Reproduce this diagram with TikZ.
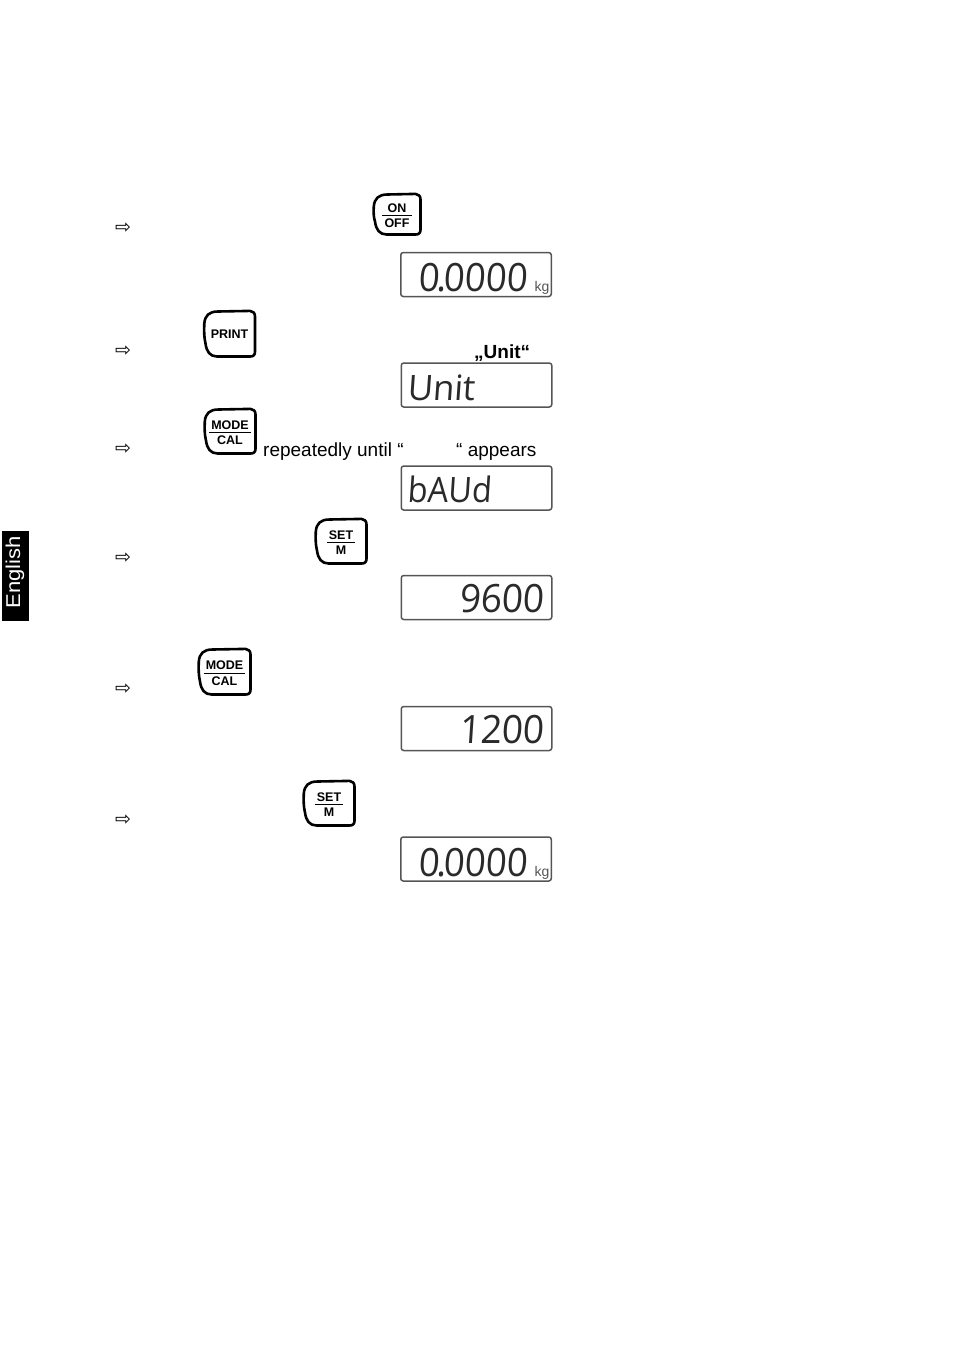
\documentclass[tikz,border=0pt]{standalone}
\usepackage{fontspec}
\setmainfont{Liberation Sans}
\newfontfamily\ArrowFont{DejaVu Sans}
\newfontfamily\LcdFont[FakeSlant=0.07]{Open Sans}
\usetikzlibrary{positioning}
\definecolor{LcdFrame}{HTML}{555555}
\definecolor{LcdInk}{HTML}{2A2A2A}
\newcommand{\KeyLabel}[2]{\begin{tabular}{@{\,}c@{\,}}\rule{0pt}{15pt}#1\\[-1pt]\hline\rule{0pt}{12.5pt}#2\end{tabular}}
\newcommand{\DrawKey}[1]{\draw[KeyEdge] ([xshift=14pt]#1.north west) -- ([xshift=-5pt,yshift=0.6pt]#1.north east)
  .. controls ([xshift=-2pt,yshift=0.4pt]#1.north east) and ([yshift=-1.5pt]#1.north east) .. ([yshift=-5pt]#1.north east) -- ([yshift=5pt]#1.south east)
  .. controls ([yshift=1.5pt]#1.south east) and ([xshift=-1.5pt]#1.south east) .. ([xshift=-5pt]#1.south east) -- ([xshift=13pt]#1.south west)
  .. controls ([xshift=6pt]#1.south west) and ([xshift=2.5pt,yshift=5pt]#1.south west) .. ([xshift=1.5pt,yshift=13pt]#1.south west)
  .. controls ([xshift=0pt,yshift=-3pt]#1.west) and ([xshift=0pt,yshift=3pt]#1.west) .. ([xshift=0.3pt,yshift=-12pt]#1.north west)
  .. controls ([xshift=1pt,yshift=-4pt]#1.north west) and ([xshift=5pt]#1.north west) .. cycle;}

\begin{document}
\begin{tikzpicture}[x=1pt,y=-1pt]
  \tikzset{KeyStyle/.style = {
    shape          = rectangle,
    inner sep      = 0pt,
    outer sep      = 0pt,
    text           = black,
    font           = \fontsize{12.5}{12.5}\selectfont\bfseries
    }
  }
  \tikzset{KeyEdge/.style = {
    draw           = black,
    line width     = 2.6pt,
    line join      = round
    }
  }
  \tikzset{DisplayStyle/.style = {
    shape          = rectangle,
    draw           = LcdFrame,
    fill           = white,
    line width     = 1.5pt,
    rounded corners = 2.5pt,
    minimum width  = 150.5pt,
    minimum height = 44pt,
    inner sep      = 0pt,
    outer sep      = 0pt
    }
  }
  \tikzset{LcdStyle/.style = {
    text           = LcdInk,
    inner sep      = 0pt,
    font           = \fontsize{39}{39}\selectfont\LcdFont
    }
  }
  \tikzset{KgStyle/.style = {
    text           = LcdFrame,
    inner sep      = 0pt,
    anchor         = base west,
    font           = \fontsize{14}{14}\selectfont
    }
  }
  \tikzset{BulletStyle/.style = {
    inner sep      = 0pt,
    font           = \fontsize{19}{19}\selectfont\ArrowFont
    }
  }
  \tikzset{BodyStyle/.style = {
    inner sep      = 0pt,
    anchor         = base west,
    font           = \fontsize{19}{20}\selectfont
    }
  }
  \useasboundingbox (0,0) rectangle (954,1350);

  \node[BulletStyle](ArrowA) at (123, 228) {⇨};
  \node[BulletStyle](ArrowB) at (123, 351) {⇨};
  \node[BulletStyle](ArrowC) at (123, 449) {⇨};
  \node[BulletStyle](ArrowD) at (123, 558) {⇨};
  \node[BulletStyle](ArrowE) at (123, 689) {⇨};
  \node[BulletStyle](ArrowF) at (123, 820) {⇨};

  \node[KeyStyle, minimum width=47pt, minimum height=40pt](KeyOnOff) at (397, 214.5) {\KeyLabel{ON}{OFF}};
  \node[KeyStyle, minimum width=51pt, minimum height=45pt](KeyPrint) at (229.5, 334) {PRINT};
  \node[KeyStyle, minimum width=51pt, minimum height=44pt](KeyModeA) at (230, 431.5) {\KeyLabel{MODE}{CAL}};
  \node[KeyStyle, minimum width=51pt, minimum height=44pt](KeySetA) at (341, 541.5) {\KeyLabel{SET}{M}};
  \node[KeyStyle, minimum width=52pt, minimum height=45pt](KeyModeB) at (224.5, 672) {\KeyLabel{MODE}{CAL}};
  \node[KeyStyle, minimum width=51pt, minimum height=44pt](KeySetB) at (329, 803.5) {\KeyLabel{SET}{M}};
  \DrawKey{KeyOnOff}
  \DrawKey{KeyPrint}
  \DrawKey{KeyModeA}
  \DrawKey{KeySetA}
  \DrawKey{KeyModeB}
  \DrawKey{KeySetB}

  \node[DisplayStyle](DispA) at (476, 274.5) {};
  \node[DisplayStyle](DispB) at (476.5, 385) {};
  \node[DisplayStyle](DispC) at (476.5, 488) {};
  \node[DisplayStyle](DispD) at (476.5, 597.5) {};
  \node[DisplayStyle](DispE) at (476.5, 728.5) {};
  \node[DisplayStyle](DispF) at (476, 859) {};

  \node[LcdStyle, anchor=base west, xscale=0.94](LcdZeroA) at (418, 291) {0\kern-3pt.\kern-3pt0000};
  \node[KgStyle, right=7pt of LcdZeroA.base east, anchor=base west](LcdKgA) {kg};
  \node[LcdStyle, anchor=base west, font=\fontsize{35}{35}\selectfont\LcdFont\addfontfeature{LetterSpace=-1}](LcdUnit) at (407, 400) {Unit};
  \node[LcdStyle, anchor=base west, xscale=0.93, font=\fontsize{35}{35}\selectfont\LcdFont](LcdBaud) at (407, 502) {bAUd};
  \node[LcdStyle, anchor=base east, xscale=0.95](LcdNine) at (544, 612) {9600};
  \node[LcdStyle, anchor=base east, xscale=0.95](LcdTwelve) at (544, 743) {1200};
  \node[LcdStyle, anchor=base west, xscale=0.94](LcdZeroB) at (418, 876) {0\kern-3pt.\kern-3pt0000};
  \node[KgStyle, right=7pt of LcdZeroB.base east, anchor=base west](LcdKgB) {kg};

  \node[BodyStyle, font=\fontsize{19}{20}\selectfont\bfseries](TextUnit) at (474, 358) {„Unit“};
  \node[BodyStyle](TextUntil) at (263, 456) {repeatedly until “};
  \node[BodyStyle](TextAppears) at (456, 456) {“ appears};

  \node[fill=black, minimum width=27pt, minimum height=90pt, inner sep=0pt](TabBox) at (15.5, 576) {};
  \node[rotate=90, xscale=1.1, text=white, inner sep=0pt, font=\fontsize{20}{21}\selectfont](TabText) at (15, 572.5) {English};
\end{tikzpicture}
\end{document}
